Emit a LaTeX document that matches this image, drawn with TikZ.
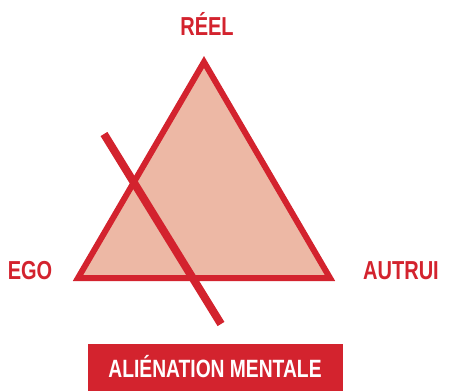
\documentclass[tikz,border=0pt]{standalone}
\usepackage{fontspec}
\newfontfamily\condfont[FakeStretch=0.77]{Liberation Sans}
\definecolor{myred}{HTML}{D3232E}
\definecolor{mypink}{HTML}{EDB8A5}
\begin{document}
\begin{tikzpicture}[x=1pt,y=-1pt,
  lbl/.style={font=\condfont\bfseries\fontsize{26}{26}\selectfont, text=myred, inner sep=0pt, anchor=base},
  tri/.style={draw=myred, fill=mypink, line width=6pt, line join=miter},
  slash/.style={draw=myred, line width=8pt, line cap=butt}]
\useasboundingbox (0,0) rectangle (451,391);
\coordinate (top) at (204,62);
\coordinate (left) at (78,278);
\coordinate (right) at (330,278);
\draw[tri] (top) -- (right) -- (left) -- cycle;
\coordinate (s1) at (104,134);
\coordinate (s2) at (221,324);
\draw[slash] (s1) -- (s2);
\node[lbl] (reel) at (207,35) {RÉEL};
\node[lbl] (ego) at (30,279) {EGO};
\node[lbl] (autrui) at (401,279) {AUTRUI};
\node[fill=myred, minimum width=255pt, minimum height=47pt, inner sep=0pt] (box) at (215.5,367.5) {};
\node[lbl, text=white, font=\condfont\bfseries\fontsize{25}{25}\selectfont] (alien) at (215,377) {ALIÉNATION MENTALE};
\end{tikzpicture}
\end{document}
